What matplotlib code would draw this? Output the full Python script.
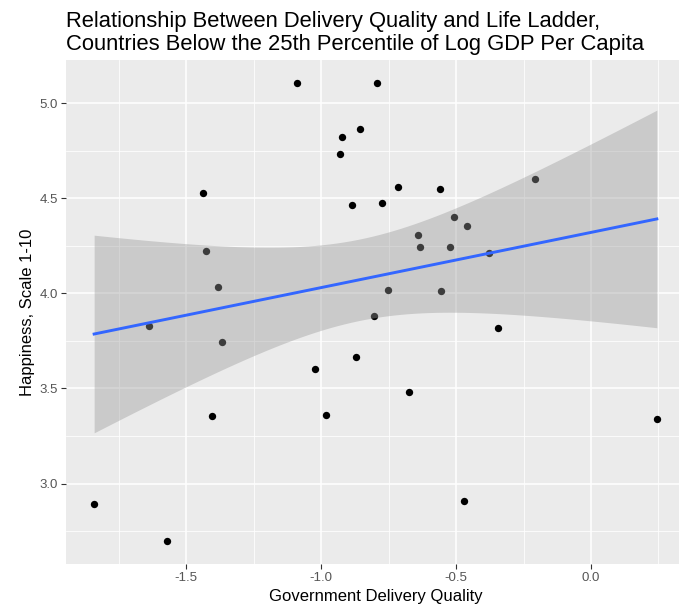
import numpy as np
import matplotlib.pyplot as plt

plt.rcParams['font.family'] = ['Liberation Sans', 'DejaVu Sans']

# government delivery quality vs life ladder
delivery = [-1.841, -1.570, -1.637, -1.437, -1.426, -1.381, -1.367, -1.404,
            -1.089, -1.022, -0.981, -0.922, -0.930, -0.856, -0.885, -0.870,
            -0.793, -0.774, -0.804, -0.752, -0.715, -0.674, -0.641, -0.633,
            -0.559, -0.556, -0.507, -0.522, -0.459, -0.470, -0.378, -0.344,
            -0.207, 0.244]
happiness = [2.894, 2.698, 3.828, 4.528, 4.225, 4.034, 3.743, 3.355,
             5.106, 3.605, 3.361, 4.820, 4.735, 4.862, 4.464, 3.668,
             5.106, 4.475, 3.881, 4.019, 4.560, 3.483, 4.305, 4.241,
             4.549, 4.013, 4.401, 4.241, 4.353, 2.910, 4.210, 3.817,
             4.602, 3.340]

x_ticks = [-1.5, -1.0, -0.5, 0.0]
y_ticks = [3.0, 3.5, 4.0, 4.5, 5.0]

x = np.array(delivery)
y = np.array(happiness)
n = len(x)

# linear fit + 95% confidence band, like geom_smooth(method='lm')
slope, intercept = np.polyfit(x, y, 1)
resid = y - (intercept + slope * x)
s = np.sqrt(np.sum(resid ** 2) / (n - 2))
t_crit = 2.0369  # t(0.975, df=32)
xs = np.linspace(x.min(), x.max(), 80)
fit = intercept + slope * xs
se = s * np.sqrt(1 / n + (xs - x.mean()) ** 2 / np.sum((x - x.mean()) ** 2))

W, H = 679, 611
fig = plt.figure(figsize=(W / 100, H / 100), dpi=100)
fig.patch.set_facecolor('white')
ax = fig.add_axes([66 / W, 1 - 564 / H, (685 - 66) / W, (564 - 60) / H])
ax.set_facecolor('#EBEBEB')

ax.scatter(x, y, s=28, color='black', zorder=3, linewidths=0)
ax.fill_between(xs, fit - t_crit * se, fit + t_crit * se, color='#999999',
                alpha=0.4, linewidth=0, zorder=4)
ax.plot(xs, fit, color='#3366FF', linewidth=2.1, zorder=5)

xr = x.max() - x.min()
yr = y.max() - y.min()
ax.set_xlim(x.min() - 0.05 * xr, x.max() + 0.05 * xr)
ax.set_ylim(y.min() - 0.05 * yr, y.max() + 0.05 * yr)

ax.set_xticks(x_ticks)
ax.set_xticklabels(['%.1f' % v for v in x_ticks])
ax.set_yticks(y_ticks)
ax.set_yticklabels(['%.1f' % v for v in y_ticks])
ax.set_xticks([-1.75, -1.25, -0.75, -0.25, 0.25], minor=True)
ax.set_yticks([2.75, 3.25, 3.75, 4.25, 4.75], minor=True)
ax.grid(which='major', color='white', linewidth=1.1, zorder=0)
ax.grid(which='minor', color='white', linewidth=0.55, zorder=0)
ax.set_axisbelow(True)
for sp in ax.spines.values():
    sp.set_visible(False)
ax.tick_params(which='major', length=3.5, width=0.8, color='#333333',
               labelcolor='#555555', labelsize=9.5, pad=2.5)
ax.tick_params(which='minor', length=0)

ax.set_xlabel('Government Delivery Quality', fontsize=12, color='black', labelpad=3)
ax.set_ylabel('Happiness, Scale 1-10', fontsize=12, color='black', labelpad=3)

fig.text(66 / W, 1 - 11 / H,
         'Relationship Between Delivery Quality and Life Ladder,\n'
         'Countries Below the 25th Percentile of Log GDP Per Capita',
         ha='left', va='top', fontsize=15.8, linespacing=1.12)

fig.savefig('out.png', dpi=100)
